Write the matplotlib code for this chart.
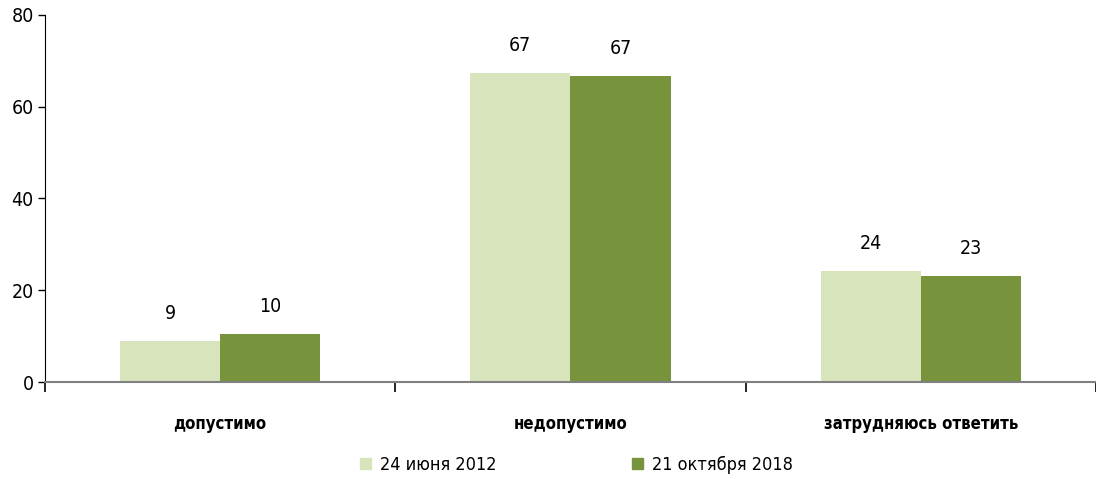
import matplotlib
matplotlib.use("Agg")
import matplotlib.pyplot as plt
import matplotlib.patches as mpatches
import numpy as np

# Data
categories = ["допустимо", "недопустимо", "затрудняюсь ответить"]
series_names = ["24 июня 2012", "21 октября 2018"]
values_2012 = [8.9, 67.3, 24.2]
values_2018 = [10.4, 66.7, 23.1]
labels_2012 = ["9", "67", "24"]
labels_2018 = ["10", "67", "23"]

COLORS = ["#d8e4bc", "#77933c"]

plt.rcParams["font.family"] = ["DejaVu Sans"]
plt.rcParams["font.stretch"] = "condensed"

fig = plt.figure(figsize=(10.96, 4.79), dpi=100)
ax = fig.add_axes([0.041, 0.2025, 0.959, 0.7662])

x = np.arange(len(categories))
w = 0.286
b1 = ax.bar(x - w / 2, values_2012, w, color=COLORS[0], label=series_names[0])
b2 = ax.bar(x + w / 2, values_2018, w, color=COLORS[1], label=series_names[1])

for bars, labs in [(b1, labels_2012), (b2, labels_2018)]:
    for bar, lab in zip(bars, labs):
        ax.annotate(lab, (bar.get_x() + bar.get_width() / 2, bar.get_height()),
                    xytext=(0, 20), textcoords="offset points",
                    ha="center", va="center", fontsize=14)

ax.set_xlim(-0.5, len(categories) - 0.5)
ax.set_ylim(0, 80)
ax.set_yticks([0, 20, 40, 60, 80])
ax.tick_params(axis="y", labelsize=14, length=5, width=1, pad=3)

# category boundaries as tick marks, labels at centers
ax.set_xticks(np.arange(-0.5, len(categories)), minor=False)
ax.set_xticklabels([])
ax.set_xticks(x, minor=True)
ax.set_xticklabels(categories, minor=True, fontsize=12, fontweight="bold")
ax.tick_params(axis="x", which="major", length=7, width=1.2, color="black", direction="out")
ax.tick_params(axis="x", which="minor", length=0, pad=24)

for s in ["top", "right"]:
    ax.spines[s].set_visible(False)
ax.spines["bottom"].set_color("#808080")
ax.spines["bottom"].set_linewidth(1.5)
ax.spines["left"].set_color("black")

handles = [mpatches.Patch(color=c, label=n) for c, n in zip(COLORS, series_names)]
fig.legend(handles=handles, loc="center", bbox_to_anchor=(0.526, 0.03), ncol=2,
           frameon=False, fontsize=13, handlelength=0.6, handleheight=0.6,
           handletextpad=0.5, columnspacing=7.5)

fig.savefig("out.png", dpi=100)
